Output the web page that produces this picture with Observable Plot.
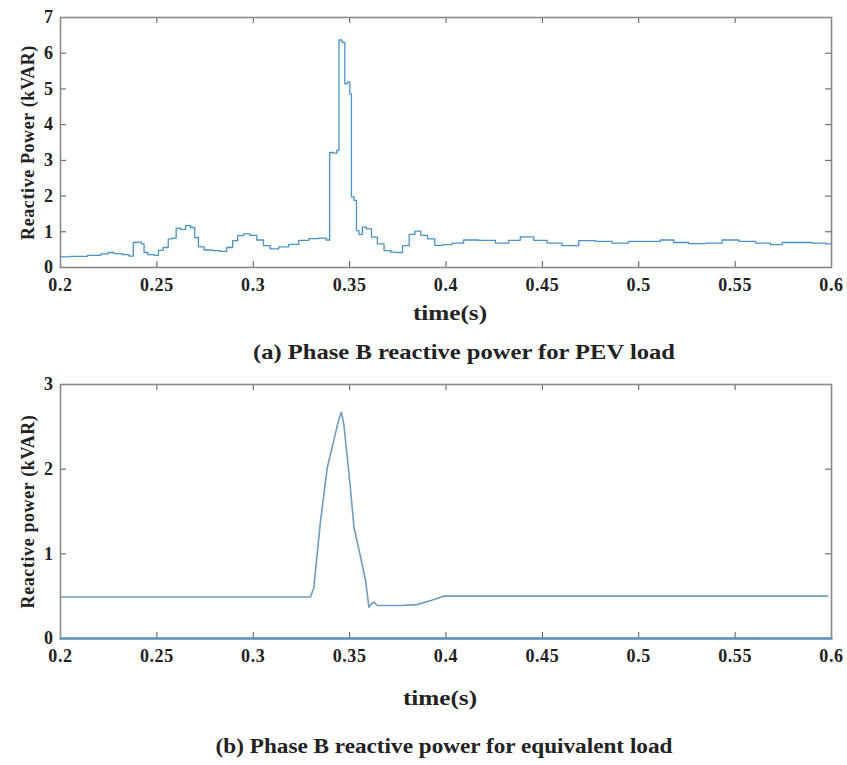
<!DOCTYPE html>
<html>
<head>
<meta charset="utf-8">
<script src="https://cdn.jsdelivr.net/npm/d3@7"></script>
<script src="https://cdn.jsdelivr.net/npm/@observablehq/plot@0.6"></script>
<style>
  html, body { margin: 0; padding: 0; background: #fff; }
  body { width: 847px; height: 765px; position: relative; overflow: hidden; font-family: "Liberation Serif", "DejaVu Serif", serif; font-weight: bold; color: #222; }
  .panel { position: absolute; left: 0; }
  .lbl { position: absolute; white-space: nowrap; }
</style>
</head>
<body>
<div id="pa" class="panel" style="top:0px"></div>
<div class="lbl" style="left:450px; top:313px; font-size:21px; transform: translate(-50%, -50%) scaleX(1.2);">time(s)</div>
<div class="lbl" style="left:464px; top:352px; font-size:21px; transform: translate(-50%, -50%) scaleX(1.17);">(a) Phase B reactive power for PEV load</div>
<div id="pb" class="panel" style="top:367px"></div>
<div class="lbl" style="left:440px; top:698px; font-size:21px; transform: translate(-50%, -50%) scaleX(1.2);">time(s)</div>
<div class="lbl" style="left:444px; top:746px; font-size:20px; transform: translate(-50%, -50%) scaleX(1.16);">(b) Phase B reactive power for equivalent load</div>
<script>
// ---- Data ----
const xTicks = [0.2, 0.25, 0.3, 0.35, 0.4, 0.45, 0.5, 0.55, 0.6];
const yTicksA = [0, 1, 2, 3, 4, 5, 6, 7];
const yTicksB = [0, 1, 2, 3];

// (a) PEV load, reactive power (kVAR)
const tA = [0.200, 0.210, 0.218, 0.224, 0.2255, 0.230, 0.234, 0.237, 0.2385, 0.241, 0.243, 0.2437, 0.247, 0.250,
  0.2516, 0.255, 0.2568, 0.259, 0.261, 0.2635, 0.2663, 0.2686, 0.2707, 0.2724, 0.2767, 0.2810, 0.2845, 0.288,
  0.2906, 0.2932, 0.2967, 0.300, 0.3036, 0.307, 0.3106, 0.3158, 0.321, 0.3262, 0.3314, 0.3366, 0.3392,
  0.3401, 0.3427, 0.3440, 0.3450, 0.3470, 0.3480, 0.3497, 0.3505, 0.3514, 0.3531, 0.3540, 0.3557, 0.3575,
  0.3600, 0.3627, 0.3661, 0.3696, 0.3730, 0.3757, 0.3792, 0.3826, 0.3852, 0.3887, 0.3922, 0.3962, 0.4005,
  0.4057, 0.4126, 0.4213, 0.4300, 0.4351, 0.4420, 0.4490, 0.4559, 0.4645, 0.4732, 0.4818, 0.4905, 0.4991,
  0.5078, 0.5147, 0.5216, 0.5303, 0.5389, 0.5476, 0.5562, 0.5649, 0.5718, 0.5770, 0.5856, 0.5943, 0.6000];
const qA = [0.30, 0.31, 0.34, 0.38, 0.42, 0.39, 0.36, 0.32, 0.70, 0.71, 0.66, 0.42, 0.36, 0.34,
  0.48, 0.56, 0.80, 0.82, 1.10, 1.07, 1.17, 1.12, 0.84, 0.58, 0.49, 0.47, 0.45, 0.56,
  0.75, 0.89, 0.94, 0.90, 0.77, 0.61, 0.52, 0.58, 0.65, 0.76, 0.81, 0.82, 0.77,
  3.22, 3.20, 3.28, 6.37, 6.30, 5.14, 5.20, 4.86, 1.98, 1.88, 1.03, 0.93, 1.13,
  1.08, 0.85, 0.66, 0.47, 0.43, 0.42, 0.61, 0.93, 1.02, 0.90, 0.80, 0.62, 0.64,
  0.68, 0.77, 0.76, 0.68, 0.76, 0.86, 0.76, 0.68, 0.61, 0.75, 0.73, 0.68, 0.73,
  0.73, 0.77, 0.70, 0.67, 0.68, 0.77, 0.73, 0.68, 0.64, 0.70, 0.70, 0.68, 0.66];

// (b) equivalent load, reactive power (kVAR)
const tB = [0.200, 0.3297, 0.3314, 0.3349, 0.3384, 0.3418, 0.3444, 0.3457, 0.3470, 0.3497, 0.3523, 0.3557,
  0.3583, 0.3600, 0.3613, 0.3625, 0.3644, 0.3766, 0.3850, 0.3922, 0.3988, 0.5980];
const qB = [0.49, 0.49, 0.60, 1.39, 2.02, 2.34, 2.59, 2.67, 2.53, 1.94, 1.31, 0.96,
  0.68, 0.37, 0.41, 0.43, 0.39, 0.39, 0.40, 0.45, 0.50, 0.50];

// second trace of (b), lying on zero
const tZero = [0.2, 0.6];
const qZero = [0, 0];

const rowsA = tA.map((t, i) => ({t, q: qA[i]}));
const rowsB = tB.map((t, i) => ({t, q: qB[i]}));
const rowsZ = tZero.map((t, i) => ({t, q: qZero[i]}));

const fmt = d => `${+(+d).toFixed(2)}`;
const frameColor = "#8a8a8a";

function panel({rows, extra, yTicks, yDomain, height, yLabel, stroke, sw, curve}) {
  const innerH = height - 17 - 33;
  return Plot.plot({
    width: 847, height,
    marginLeft: 60, marginRight: 16, marginTop: 17, marginBottom: 33,
    x: {domain: [0.2, 0.6]},
    y: {domain: yDomain},
    style: {fontFamily: "'Liberation Serif', 'DejaVu Serif', serif", fontWeight: "bold", fontSize: "18px", color: "#222", background: "#fff", letterSpacing: "0.6px"},
    marks: [
      Plot.axisX(xTicks, {tickSize: 0, tickPadding: 11, tickFormat: fmt, label: null, fontSize: 18}),
      Plot.axisY(yTicks, {tickSize: 0, tickPadding: 7, tickFormat: fmt, label: null, fontSize: 18}),
      Plot.tickX(xTicks, {x: d => d, insetTop: innerH - 6, stroke: "#555"}),
      Plot.tickX(xTicks, {x: d => d, insetBottom: innerH - 6, stroke: "#555"}),
      Plot.tickY(yTicks, {y: d => d, insetRight: 771 - 6, stroke: "#555"}),
      Plot.tickY(yTicks, {y: d => d, insetLeft: 771 - 6, stroke: "#555"}),
      Plot.line(rows, {x: "t", y: "q", stroke, strokeWidth: sw, curve}),
      Plot.frame({stroke: frameColor, strokeWidth: 1.6}),
      ...(extra || []),
      Plot.text([yLabel], {frameAnchor: "left", dx: -32, rotate: -90, textAnchor: "middle", fontSize: 18, fontWeight: "bold", fill: "#222"})
    ]
  });
}

document.getElementById("pa").append(panel({
  rows: rowsA, yTicks: yTicksA, yDomain: [0, 7], height: 300,
  yLabel: "Reactive Power (kVAR)", stroke: "#4a93c9", sw: 1.3, curve: "step"
}));

document.getElementById("pb").append(panel({
  rows: rowsB, yTicks: yTicksB, yDomain: [0, 3], height: 304,
  yLabel: "Reactive power (kVAR)", stroke: "#6f9cbf", sw: 1.6, curve: "linear",
  extra: [Plot.line(rowsZ, {x: "t", y: "q", stroke: "#5b95c5", strokeWidth: 2.5})]
}));
</script>
</body>
</html>
